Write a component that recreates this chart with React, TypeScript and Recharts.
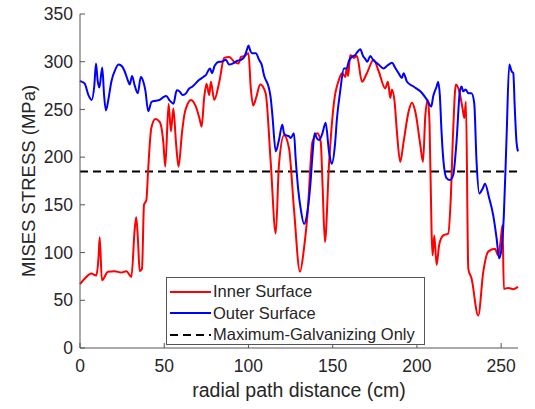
import React from 'react'
import { LineChart, Line, XAxis, YAxis, ReferenceLine, Legend } from 'recharts'

// distance along radial path (cm) -> Mises stress (MPa)
const innerX = [0, 3, 6.7, 9.7, 11, 11.7, 13, 16.6, 20.6, 24.5, 27.5, 30.5, 32.5, 33.4, 34.5, 35.4, 36.8, 38, 39.4, 40.4, 42.3, 44.7, 47.3, 49.5, 50.6, 52.6, 54, 55.4, 57, 58.5, 60.5, 61.9, 64, 65.8, 68.8, 71, 72.2, 73.7, 75.1, 76.7, 77.7, 79.7, 82.7, 85.6, 88.6, 91.5, 94.1, 95.5, 97.5, 100, 101.4, 102.8, 104.5, 107, 110.2, 113.2, 116.2, 118.1, 121.1, 124.1, 127, 130.6, 133, 135, 138, 140.9, 142.9, 144, 145.4, 147.8, 150.8, 153.7, 155.5, 157.5, 158.3, 159.2, 160.4, 162.4, 164.4, 167.4, 170.3, 174.3, 177.3, 181.2, 182.8, 184.2, 185.2, 186.8, 188.1, 190.1, 192.1, 195.1, 197, 199, 202, 203.6, 205, 206.5, 207.5, 208.7, 209.3, 210.3, 211.7, 213.2, 215.6, 218.6, 220, 221.5, 223.1, 225.1, 227.1, 228.1, 229.1, 230.5, 232.4, 236.4, 239.4, 242.3, 246.3, 248.3, 249.6, 250.8, 251.6, 254.2, 257.2, 260]
const innerY = [67, 73, 78, 76, 95, 116, 71, 80, 80.5, 79, 80.5, 74.5, 125, 137, 110, 80.5, 83, 150, 155, 185, 230, 240, 237, 215, 190, 256, 227, 251, 215, 190, 225, 244, 256, 260, 253, 240, 232, 262, 277, 265, 279, 260, 279, 304, 305, 300, 298, 305, 306, 309, 272, 254, 262, 276, 267, 195, 120, 192, 223, 209, 146, 80, 105, 139, 216, 225, 216, 170, 111, 192, 258, 281, 288, 284, 293, 285, 307, 304, 306, 279, 288, 302, 290, 272, 279, 262, 271, 257, 227, 195, 216, 248, 257, 248, 213, 195, 244, 260, 234, 122, 97, 118, 87, 108, 118, 120, 153, 227, 276, 269, 251, 241, 258, 83, 73, 34, 80, 101, 104, 97, 111, 129, 62, 63, 61.6, 64]

const outerX = [0, 1, 2.8, 5, 6.9, 8.5, 9.5, 10.5, 11.5, 13.2, 14.3, 15.4, 17, 18.6, 21, 23, 25, 26.5, 28.5, 29.5, 30.9, 32.5, 34.3, 36.1, 37.6, 38.8, 40.5, 42.5, 45, 47.3, 49.5, 51.2, 53.4, 55.5, 57.4, 59, 61, 63, 64.4, 66.8, 70.8, 73.2, 74.7, 77.2, 78.3, 80, 82.7, 84, 86.6, 88.5, 90.6, 93.5, 95.5, 97.5, 99, 100, 101, 102, 104.4, 106.3, 108, 109.2, 112.2, 113.2, 114.2, 116.2, 118.1, 120.1, 121.1, 122.1, 124, 125.1, 127, 128, 129.6, 131, 133, 135, 136.7, 138, 139.3, 140.5, 141.9, 143.9, 145.8, 147.8, 149.4, 151.4, 152.5, 154.3, 156.7, 158.3, 159.5, 161.3, 163.4, 165, 166.4, 168, 169.3, 170.5, 172.3, 174, 177.3, 180.2, 182.5, 185.2, 187, 189.1, 191.1, 192.1, 194.1, 198, 202, 206, 208.5, 209.7, 211.7, 212.6, 213.6, 214.6, 215.6, 217.6, 219.6, 221.5, 223.5, 225.5, 226.5, 227.5, 229, 230.5, 232.4, 234, 235.4, 237, 239, 240.4, 242.9, 245.3, 247.3, 248.8, 250.2, 251.6, 253.2, 254.8, 256.2, 257.2, 258.1, 259.1, 260]
const outerY = [280, 279, 277, 265, 260, 275, 298, 280, 273, 294, 265, 249, 262, 279, 292, 297, 295, 290, 280, 276, 285, 275, 267, 284, 279, 270, 248, 258, 259, 260, 263, 264, 259, 256, 270, 269, 265, 267, 271, 274, 281, 284, 286, 293, 288, 296, 300, 300, 302, 297, 298, 301, 302, 305, 312, 317, 312, 309, 309, 302, 296, 286, 272, 262, 244, 206, 218, 234, 225, 223, 222, 220, 225, 199, 165, 146, 130, 143, 170, 202, 225, 220, 218, 225, 236, 206, 193, 214, 240, 267, 293, 293, 300, 305, 307, 311, 313, 306, 303, 300, 306, 302, 297, 293, 296, 299, 294, 288, 283, 288, 279, 274, 269, 260, 253, 264, 274, 279, 265, 227, 199, 178, 176, 181, 216, 269, 274, 269, 271, 267, 267, 257, 195, 162, 167, 172, 157, 139, 115, 94, 104, 139, 220, 297, 290, 288, 251, 216, 206]

const galvanizingMax = 185

const xTicks = [0, 50, 100, 150, 200, 250]
const yTicks = [0, 50, 100, 150, 200, 250, 300, 350]

const seriesNames = ['Inner Surface', 'Outer Surface', 'Maximum-Galvanizing Only']

const innerData = innerX.map((x, i) => ({ x, stress: innerY[i] }))
const outerData = outerX.map((x, i) => ({ x, stress: outerY[i] }))

const FONT = '"Liberation Sans", Arial, Helvetica, sans-serif'
const TEXT = '#262626'
const AXIS = '#555555'

function LegendBox() {
  const rows = [
    { name: seriesNames[0], color: '#ff0000', dash: undefined },
    { name: seriesNames[1], color: '#0000ff', dash: undefined },
    { name: seriesNames[2], color: '#000000', dash: '8 5' },
  ]
  return (
    <div
      style={{
        width: 259,
        height: 68,
        border: '1px solid #555',
        background: '#fff',
        boxSizing: 'border-box',
        padding: '3px 0 0 3px',
        fontFamily: FONT,
        fontSize: 16.5,
        lineHeight: '21.5px',
        color: TEXT,
      }}
    >
      {rows.map((r) => (
        <div key={r.name} style={{ display: 'flex', alignItems: 'center', height: 21.5 }}>
          <svg width={41} height={6} style={{ marginRight: 2 }}>
            <line x1={0} y1={3} x2={41} y2={3} stroke={r.color} strokeWidth={2} strokeDasharray={r.dash} />
          </svg>
          <span>{r.name}</span>
        </div>
      ))}
    </div>
  )
}

export default function App() {
  return (
    <div style={{ position: 'absolute', left: 0, top: 0, background: '#fff' }}>
      <LineChart width={535} height={409} margin={{ top: 14, right: 17, bottom: 31, left: 0 }}>
        <XAxis
          dataKey="x"
          type="number"
          domain={[0, 260]}
          ticks={xTicks}
          height={30}
          tickSize={-5}
          tickMargin={17}
          stroke={AXIS}
          tick={{ fill: TEXT, fontSize: 17.5, fontFamily: FONT }}
          allowDuplicatedCategory={false}
          label={{ value: 'radial path distance (cm)', position: 'bottom', offset: 5, fill: TEXT, fontSize: 19.5, fontFamily: FONT }}
        />
        <XAxis
          xAxisId="top"
          orientation="top"
          type="number"
          domain={[0, 260]}
          ticks={xTicks}
          height={0}
          tickSize={-5}
          tickFormatter={() => ''}
          stroke={AXIS}
        />
        <YAxis
          type="number"
          domain={[0, 350]}
          ticks={yTicks}
          width={80}
          tickSize={-5}
          tickMargin={12}
          stroke={AXIS}
          tick={{ fill: TEXT, fontSize: 17.5, fontFamily: FONT }}
          label={{ value: 'MISES STRESS (MPa)', angle: -90, position: 'center', dx: -12, fill: TEXT, fontSize: 18.5, fontFamily: FONT }}
        />
        <YAxis
          yAxisId="right"
          orientation="right"
          type="number"
          domain={[0, 350]}
          ticks={yTicks}
          width={0}
          tickSize={-5}
          tickFormatter={() => ''}
          stroke={AXIS}
        />
        <ReferenceLine y={galvanizingMax} stroke="#000" strokeWidth={2} strokeDasharray="8 5" />
        <Line data={innerData} dataKey="stress" name={seriesNames[0]} type="monotone" stroke="#ff0000" strokeWidth={2} dot={false} isAnimationActive={false} />
        <Line data={outerData} dataKey="stress" name={seriesNames[1]} type="monotone" stroke="#0000ff" strokeWidth={2} dot={false} isAnimationActive={false} />
        <Legend
          layout="vertical"
          align="center"
          verticalAlign="middle"
          content={() => <LegendBox />}
          wrapperStyle={{ left: 166, top: 277, width: 259, height: 68 }}
        />
      </LineChart>
    </div>
  )
}
